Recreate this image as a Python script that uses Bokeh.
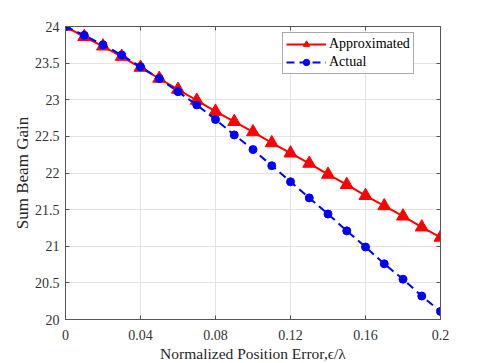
from bokeh.plotting import figure
from bokeh.models import LinearAxis, FixedTicker, Range1d, Legend, LegendItem
from bokeh.embed import file_html
from bokeh.resources import INLINE

x_err = [0.00, 0.01, 0.02, 0.03, 0.04, 0.05, 0.06, 0.07, 0.08, 0.09, 0.10,
         0.11, 0.12, 0.13, 0.14, 0.15, 0.16, 0.17, 0.18, 0.19, 0.20]
approximated = [24.00, 23.86, 23.73, 23.59, 23.44, 23.29, 23.14, 22.99, 22.84, 22.70, 22.56,
                22.41, 22.27, 22.13, 21.98, 21.84, 21.69, 21.55, 21.41, 21.26, 21.12]
actual = [24.00, 23.88, 23.75, 23.61, 23.45, 23.29, 23.11, 22.93, 22.73, 22.52, 22.32,
          22.10, 21.88, 21.66, 21.44, 21.21, 20.99, 20.76, 20.55, 20.32, 20.11]

x_ticks = [0, 0.04, 0.08, 0.12, 0.16, 0.2]
x_tick_labels = ["0", "0.04", "0.08", "0.12", "0.16", "0.2"]
y_ticks = [20, 20.5, 21, 21.5, 22, 22.5, 23, 23.5, 24]
y_tick_labels = ["20", "20.5", "21", "21.5", "22", "22.5", "23", "23.5", "24"]

FONT = "Liberation Serif"
AX = "#555555"

p = figure(frame_width=375, frame_height=293, output_backend="svg", toolbar_location=None,
           x_range=Range1d(0, 0.2), y_range=Range1d(20, 24),
           min_border_left=55, min_border_right=30, min_border_top=26, min_border_bottom=35)
p.outline_line_color = AX
p.outline_line_width = 1

for ax in (p.xaxis[0], p.yaxis[0]):
    ax.axis_line_color = AX
    ax.major_tick_line_color = AX
    ax.major_tick_in = 4
    ax.major_tick_out = 0
    ax.minor_tick_line_color = None
    ax.major_label_text_font = FONT
    ax.major_label_text_font_size = "14px"
    ax.major_label_text_color = "#333333"
    ax.axis_label_text_font = FONT
    ax.axis_label_text_font_style = "normal"
    ax.axis_label_text_color = "#262626"

p.xaxis[0].axis_label_text_font_size = "15.5px"
p.yaxis[0].axis_label_text_font_size = "17px"
p.xaxis[0].ticker = FixedTicker(ticks=x_ticks)
p.xaxis[0].major_label_overrides = {t: l for t, l in zip(x_ticks, x_tick_labels)}
p.yaxis[0].ticker = FixedTicker(ticks=y_ticks)
p.yaxis[0].major_label_overrides = {t: l for t, l in zip(y_ticks, y_tick_labels)}
p.xaxis[0].axis_label = "Normalized Position Error,\u03f5/\u03bb"
p.yaxis[0].axis_label = "Sum Beam Gain"
p.xaxis[0].major_label_standoff = 10
p.xaxis[0].axis_label_standoff = 2
p.yaxis[0].major_label_standoff = 6
p.yaxis[0].axis_label_standoff = 0

# box ticks on top and right
top = LinearAxis(ticker=FixedTicker(ticks=x_ticks), major_tick_in=4, major_tick_out=0,
                 major_label_text_alpha=0, major_label_text_font_size="1px",
                 axis_line_color=AX, major_tick_line_color=AX, minor_tick_line_color=None,
                 major_label_standoff=0)
right = LinearAxis(ticker=FixedTicker(ticks=y_ticks), major_tick_in=4, major_tick_out=0,
                   major_label_text_alpha=0, major_label_text_font_size="1px",
                   axis_line_color=AX, major_tick_line_color=AX, minor_tick_line_color=None,
                   major_label_standoff=0)
p.add_layout(top, "above")
p.add_layout(right, "right")

# invisible outer spacer axis on the left (pushes the frame right)
pad = LinearAxis(ticker=FixedTicker(ticks=[20]), major_tick_in=0, major_tick_out=0,
                 major_label_text_alpha=0, major_label_text_font_size="1px",
                 axis_line_color=None, major_tick_line_color=None, minor_tick_line_color=None,
                 major_label_standoff=0, axis_label="I", axis_label_text_alpha=0,
                 axis_label_text_font_size="5px", axis_label_standoff=0)
p.add_layout(pad, "left")

p.xgrid.ticker = FixedTicker(ticks=x_ticks)
p.ygrid.ticker = FixedTicker(ticks=y_ticks)
p.grid.grid_line_color = "#e3e3e3"
p.grid.grid_line_width = 1

r1l = p.line(x_err, approximated, line_color="red", line_width=2)
r1m = p.scatter(x_err, approximated, marker="triangle", size=13, fill_color="red", line_color="red")
r2l = p.line(x_err, actual, line_color="blue", line_width=2, line_dash="8 5")
r2m = p.scatter(x_err, actual, marker="circle", size=8, fill_color="blue", line_color="blue")

legend = Legend(items=[LegendItem(label="Approximated", renderers=[r1l, r1m]),
                       LegendItem(label="Actual", renderers=[r2l, r2m])],
                location=(217, 245))
legend.label_text_font = FONT
legend.label_text_font_size = "14px"
legend.label_text_color = "#000000"
legend.border_line_color = AX
legend.border_line_width = 1
legend.glyph_width = 40
legend.glyph_height = 16
legend.label_standoff = 3
legend.label_height = 16
legend.spacing = 2
legend.padding = 3
legend.margin = 0
p.add_layout(legend, "center")

open("out.html", "w").write(file_html(p, INLINE))
